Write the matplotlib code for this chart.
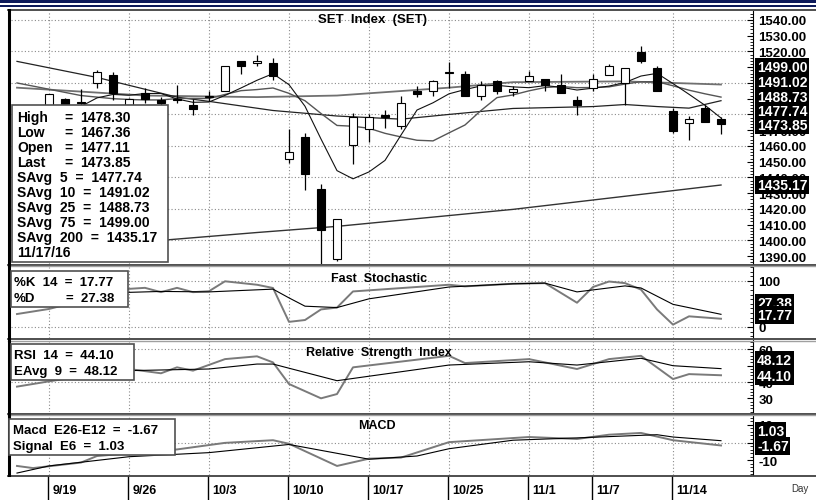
import numpy as np
import matplotlib.pyplot as plt
from matplotlib.patches import Rectangle
from matplotlib.lines import Line2D
from matplotlib.ticker import MultipleLocator

plt.rcParams['font.family'] = ['Liberation Sans', 'DejaVu Sans']

dates = ['9/15', '9/16', '9/19', '9/20', '9/21', '9/22', '9/23', '9/26', '9/27', '9/28',
         '9/29', '9/30', '10/3', '10/4', '10/5', '10/6', '10/7', '10/10', '10/11', '10/12',
         '10/13', '10/14', '10/17', '10/18', '10/19', '10/20', '10/21', '10/25', '10/26', '10/27',
         '10/28', '10/31', '11/1', '11/2', '11/3', '11/4', '11/7', '11/8', '11/9', '11/10',
         '11/11', '11/14', '11/15', '11/16', '11/17']
tick_dates = ['9/19', '9/26', '10/3', '10/10', '10/17', '10/25', '11/1', '11/7', '11/14']

opens = [1478, 1480, 1484, 1490, 1487.5, 1499.7, 1504.8, 1486, 1493.3, 1489,
         1489.5, 1485.7, 1490.8, 1495.2, 1513.7, 1512.4, 1512.4, 1452, 1465.4, 1432.4,
         1387.9, 1460.3, 1470.5, 1479.4, 1472.4, 1494.6, 1494.6, 1506.5, 1505.4, 1492,
         1501, 1494, 1501, 1502.2, 1498.4, 1488.9, 1496.5, 1504.8, 1499.7, 1519.4,
         1509.2, 1481.9, 1474.3, 1484.4, 1477.11]
highs = [1482, 1484, 1492.7, 1490.5, 1496, 1508, 1506.7, 1490.5, 1496.5, 1490.8,
         1499, 1490, 1494.6, 1511, 1513.7, 1518, 1515.6, 1471, 1468, 1435.6,
         1413.3, 1480.6, 1480, 1482.5, 1491.4, 1497.8, 1501.6, 1513, 1507.3, 1501,
         1501.6, 1497.8, 1507.9, 1502.2, 1505.4, 1491.4, 1505.4, 1511.8, 1509.8, 1523.2,
         1510.5, 1484.4, 1478.7, 1485.7, 1478.30]
lows = [1474, 1476, 1482, 1482, 1484, 1497, 1488.9, 1484, 1487, 1485,
        1487, 1479.4, 1488.3, 1494.6, 1506, 1510.5, 1501.6, 1449, 1431.7, 1384,
        1386.7, 1448.3, 1462.2, 1471.1, 1470.5, 1490.8, 1492, 1496.5, 1492, 1488.9,
        1493, 1491.4, 1501, 1494.6, 1493.3, 1479.4, 1494.6, 1504.8, 1485.7, 1512.4,
        1494.6, 1467.9, 1463.5, 1474.9, 1467.36]
closes = [1480, 1482, 1492.7, 1484, 1487, 1506.7, 1493.3, 1490, 1489.5, 1487,
          1489, 1483.2, 1490.8, 1510.5, 1510.5, 1513.7, 1504.1, 1455.9, 1441.9, 1406.3,
          1413.3, 1478.1, 1478.1, 1478.1, 1487, 1492.7, 1501, 1506.5, 1492, 1498.4,
          1494.6, 1495.9, 1504.1, 1498.4, 1493.3, 1485.7, 1502.2, 1510.5, 1509.8, 1513.7,
          1494.6, 1469.2, 1476.8, 1474.9, 1473.85]

sma5 = [1484, 1483, 1484, 1483.5, 1485.1, 1490.5, 1492.7, 1492.2, 1493.3, 1493.3,
        1489.8, 1487.7, 1487.9, 1492.1, 1496.8, 1501.7, 1505.9, 1498.9, 1485.2, 1464.4,
        1444.3, 1439.1, 1443.5, 1450.8, 1466.9, 1482.8, 1487.4, 1493.1, 1495.8, 1498.1,
        1498.5, 1497.5, 1497, 1498.3, 1497.3, 1495.5, 1496.7, 1498, 1500.3, 1504.4,
        1506.1, 1499.6, 1492.8, 1485.8, 1477.74]
sma10 = [1500, 1498, 1496, 1494, 1492, 1491, 1490, 1489.5, 1489.2, 1489.2,
         1490.1, 1490.2, 1490.1, 1492.7, 1495.1, 1495.8, 1496.8, 1493.4, 1488.7, 1480.6,
         1473.0, 1472.5, 1471.2, 1468.0, 1465.7, 1463.6, 1463.2, 1468.3, 1473.3, 1482.5,
         1490.7, 1492.4, 1495.0, 1497.1, 1497.7, 1497.0, 1497.1, 1497.5, 1499.3, 1500.8,
         1500.8, 1498.2, 1495.4, 1493.1, 1491.02]
sma25_days = [0, 5, 10, 12, 16, 20, 24, 27, 31, 36, 38, 40, 42, 44]
sma25 = [1513.7, 1503.5, 1491, 1488.3, 1482.5, 1479, 1477, 1480, 1483.8, 1485, 1486.3, 1485, 1484, 1488.73]
sma75_days = [0, 8, 15, 20, 27, 31, 38, 44]
sma75 = [1497, 1492, 1491, 1492, 1497, 1500.5, 1501, 1499.00]
sma200_days = [0, 9, 15, 20, 31, 44]
sma200 = [1391.5, 1400, 1405, 1408.9, 1419.7, 1435.17]

k_days = [0, 2, 7, 8, 9, 10, 11, 12, 13, 15, 16, 17, 18, 19, 20, 21, 27, 28, 31, 33, 35, 36, 37, 38, 39, 40, 41, 42, 44]
stoch_k = [28, 39, 82.6, 84.8, 75.4, 84.8, 75.4, 77.5, 99, 91.5, 84.5, 11, 15, 38, 42, 77, 91.5, 88, 93.6, 95,
           52.5, 86.6, 98.5, 95, 81, 38, 5, 23, 17.77]
d_days = [0, 2, 7, 9, 12, 16, 17, 18, 20, 22, 27, 31, 33, 35, 38, 39, 41, 44]
stoch_d = [45, 55, 75, 77, 76, 82, 63, 45, 42, 61, 86.6, 93.6, 95, 76, 89, 84.5, 49, 27.38]

rsi_days = [0, 2, 7, 9, 10, 11, 13, 15, 16, 17, 19, 20, 21, 27, 28, 32, 35, 37, 39, 41, 42, 44]
rsi = [37.2, 40.4, 47.9, 45.3, 48.9, 46.9, 53.9, 55.6, 51.9, 38.8, 30.1, 32.7, 48.9, 55.9, 51.5, 53.9,
       47.9, 53.9, 55.9, 41.8, 44.8, 44.10]
eavg_days = [0, 2, 7, 12, 15, 16, 20, 27, 32, 35, 39, 41, 44]
rsi_eavg = [42, 44, 46.9, 47.9, 50.9, 50.9, 40.8, 50.3, 52.3, 50.3, 54.4, 49.9, 48.12]

macd_days = [0, 1, 4, 5, 10, 13, 16, 17, 20, 22, 24, 27, 32, 35, 37, 39, 41, 44]
macd = [-13.2, -14.4, -11.3, -7.6, -3.9, -0.2, 1.3, -0.7, -13.2, -9.1, -8.5, 0.2, 3.1, 2.0, 4.4, 5.4, 1.3, -1.67]
sig_days = [0, 2, 7, 12, 17, 22, 25, 27, 31, 35, 40, 41, 44]
signal = [-17.2, -13.2, -8, -5.7, -1.1, -9.4, -7.6, -3.5, 1.3, 2.6, 4.4, 3.1, 1.03]

main_keys = ['High', 'Low', 'Open', 'Last']
main_vals = ['1478.30', '1467.36', '1477.11', '1473.85']
avg_lines = ['SAvg  5  =  1477.74', 'SAvg  10  =  1491.02', 'SAvg  25  =  1488.73',
             'SAvg  75  =  1499.00', 'SAvg  200  =  1435.17', '11/17/16']

W, H = 816, 502
X0, X1 = 11, 753


def rect(x0, y0, x1, y1):
    return [x0 / W, 1 - y1 / H, (x1 - x0) / W, (y1 - y0) / H]


fig = plt.figure(figsize=(W / 100, H / 100), dpi=100)
fig.patch.set_facecolor('white')

x = np.arange(len(dates))
tick_idx = [dates.index(d) for d in tick_dates]
xlim = (-(17 - X0) / 16, (X1 - 17) / 16)


def panel(y0, y1, ylim, yticks, labels, grid, minor):
    ax = fig.add_axes(rect(X0, y0, X1, y1))
    ax.set_xlim(*xlim)
    ax.set_ylim(*ylim)
    ax.yaxis.tick_right()
    ax.set_yticks(yticks, labels=labels)
    ax.yaxis.set_minor_locator(MultipleLocator(minor))
    ax.set_xticks([])
    ax.tick_params(axis='y', which='major', direction='in', length=4, pad=4,
                   labelsize=9.5, width=0.8)
    ax.tick_params(axis='y', which='minor', direction='in', length=2, width=0.6)
    for lab in ax.get_yticklabels():
        lab.set_fontweight('bold')
    for g in grid:
        ax.axhline(g, color='#8a8a8a', lw=0.8, ls=(0, (1, 2)), zorder=0)
    for d in tick_idx:
        ax.axvline(d, color='#8a8a8a', lw=0.8, ls=(0, (1, 2)), zorder=0)
    for s in ['top', 'bottom', 'left']:
        ax.spines[s].set_visible(False)
    ax.spines['right'].set_color('black')
    return ax


# main price panel
price_ticks = np.arange(1390, 1541, 10)
price_labels = ['' if 1480 <= v <= 1510 else '%.2f' % v for v in price_ticks]
ax = panel(12, 265, (1385, 1545.7), price_ticks, price_labels,
           np.arange(1400, 1541, 20), 2)
ax.plot(sma200_days, sma200, color='#333333', lw=1.0)
ax.plot(sma75_days, sma75, color='#707070', lw=1.3)
ax.plot(sma25_days, sma25, color='#222222', lw=0.9)
ax.plot(x, sma10, color='#555555', lw=1.0)
ax.plot(x, sma5, color='#111111', lw=0.8)
o = np.array(opens)
c = np.array(closes)
ax.vlines(x, lows, highs, color='black', lw=0.9, zorder=3)
body_lo = np.minimum(o, c)
body_h = np.maximum(np.abs(c - o), 0.6)
face = ['white' if cc >= oo else 'black' for oo, cc in zip(o, c)]
ax.bar(x, body_h, bottom=body_lo, width=0.5, color=face, edgecolor='black',
       linewidth=0.8, zorder=4)
ax.text(22.2, 1540.5, 'SET  Index  (SET)', ha='center', va='center',
        fontsize=9.5, fontweight='bold')

# fast stochastic
ax2 = panel(268, 339, (-24, 130), [0, 100], ['0', '100'], [0, 100], 10)
ax2.plot(k_days, stoch_k, color='#7a7a7a', lw=1.4)
ax2.plot(d_days, stoch_d, color='black', lw=0.8)
ax2.text(22.6, 106, 'Fast  Stochastic', ha='center', va='center', fontsize=9, fontweight='bold')

# RSI
ax3 = panel(341, 413, (21.8, 65.5), [30, 40, 50, 60], ['30', '40', '', '60'], [40, 60], 2)
ax3.plot(rsi_days, rsi, color='#7a7a7a', lw=1.4)
ax3.plot(eavg_days, rsi_eavg, color='black', lw=0.8)
ax3.text(22.6, 58.3, 'Relative  Strength  Index', ha='center', va='center',
         fontsize=9, fontweight='bold')

# MACD
ax4 = panel(416, 476, (-18.3, 15.5), [-10, 0, 10], ['-10', '', '10'], [0], 2)
ax4.plot(macd_days, macd, color='#7a7a7a', lw=1.4)
ax4.plot(sig_days, signal, color='black', lw=0.8)
ax4.text(22.5, 10, 'MACD', ha='center', va='center', fontsize=9, fontweight='bold')

# date strip
axd = fig.add_axes(rect(X0, 477, X1, 501))
axd.set_xlim(*xlim)
axd.set_ylim(0, 1)
axd.axis('off')
for d, lab in zip(tick_idx, tick_dates):
    axd.axvline(d - 0.07, color='black', lw=1.0)
    axd.text(d + 0.2, 0.42, lab, ha='left', va='center', fontsize=9, fontweight='bold')
fig.text(800 / W, 1 - 489 / H, 'Day', ha='center', va='center', fontsize=7, color='#333333')

# frame lines
fig.add_artist(Rectangle((0, 1 - 4 / H), 1, 4 / H, transform=fig.transFigure,
                         facecolor='#0d1a5a', edgecolor='none'))
fig.add_artist(Rectangle((0, 1 - 8 / H), 1, 2 / H, transform=fig.transFigure,
                         facecolor='#0d1a5a', edgecolor='none'))
for yy in [11, 265.5, 340, 414.5, 476.5]:
    fig.add_artist(Line2D([8 / W, 1], [1 - yy / H] * 2, color='#404040', lw=1.3))
for yy in [267, 341.5, 416]:
    fig.add_artist(Line2D([8 / W, 1], [1 - yy / H] * 2, color='#a0a0a0', lw=1.0))
fig.add_artist(Line2D([9 / W] * 2, [1 - 11 / H, 1 - 476 / H], color='black', lw=2.2))


# legend boxes
def legend_box(x0, y0, x1, y1):
    fig.add_artist(Rectangle((x0 / W, 1 - y1 / H), (x1 - x0) / W, (y1 - y0) / H,
                             transform=fig.transFigure, facecolor='white',
                             edgecolor='#505050', lw=1.2, zorder=5))


def ltext(px, py, t, size=10):
    fig.text(px / W, 1 - py / H, t, ha='left', va='center', fontsize=size,
             fontweight='bold', zorder=6)


legend_box(12, 106, 168, 263)
rows = np.arange(118, 260, 15)
for k, v, yy in zip(main_keys, main_vals, rows):
    ltext(17, yy, k)
    ltext(64, yy, '=')
    ltext(80, yy, v)
for t, yy in zip(avg_lines, rows[4:]):
    ltext(17, yy, t)

legend_box(11, 272, 128, 308)
ltext(14, 283, '%K  14  =  17.77', 9.5)
ltext(14, 299, '%D', 9.5)
ltext(66, 299, '=  27.38', 9.5)
legend_box(11, 345, 134, 381)
ltext(14, 356, 'RSI  14  =  44.10', 9.5)
ltext(14, 372, 'EAvg  9  =  48.12', 9.5)
legend_box(9, 420, 175, 456)
ltext(13, 431, 'Macd  E26-E12  =  -1.67', 9.5)
ltext(13, 447, 'Signal  E6  =  1.03', 9.5)

# value flags on the right axis
flags = [('1499.00', 68), ('1491.02', 83), ('1488.73', 97.5), ('1477.74', 112), ('1473.85', 126.5),
         ('1435.17', 186), ('27.38', 304), ('17.77', 316), ('48.12', 361), ('44.10', 377),
         ('1.03', 432), ('-1.67', 447)]
for t, yy in flags:
    fig.text(757 / W, 1 - yy / H, t, ha='left', va='center', fontsize=10, fontweight='bold',
             color='white', zorder=7,
             bbox=dict(facecolor='black', edgecolor='none', boxstyle='square,pad=0.12'))

fig.savefig('out.png', dpi=100)
